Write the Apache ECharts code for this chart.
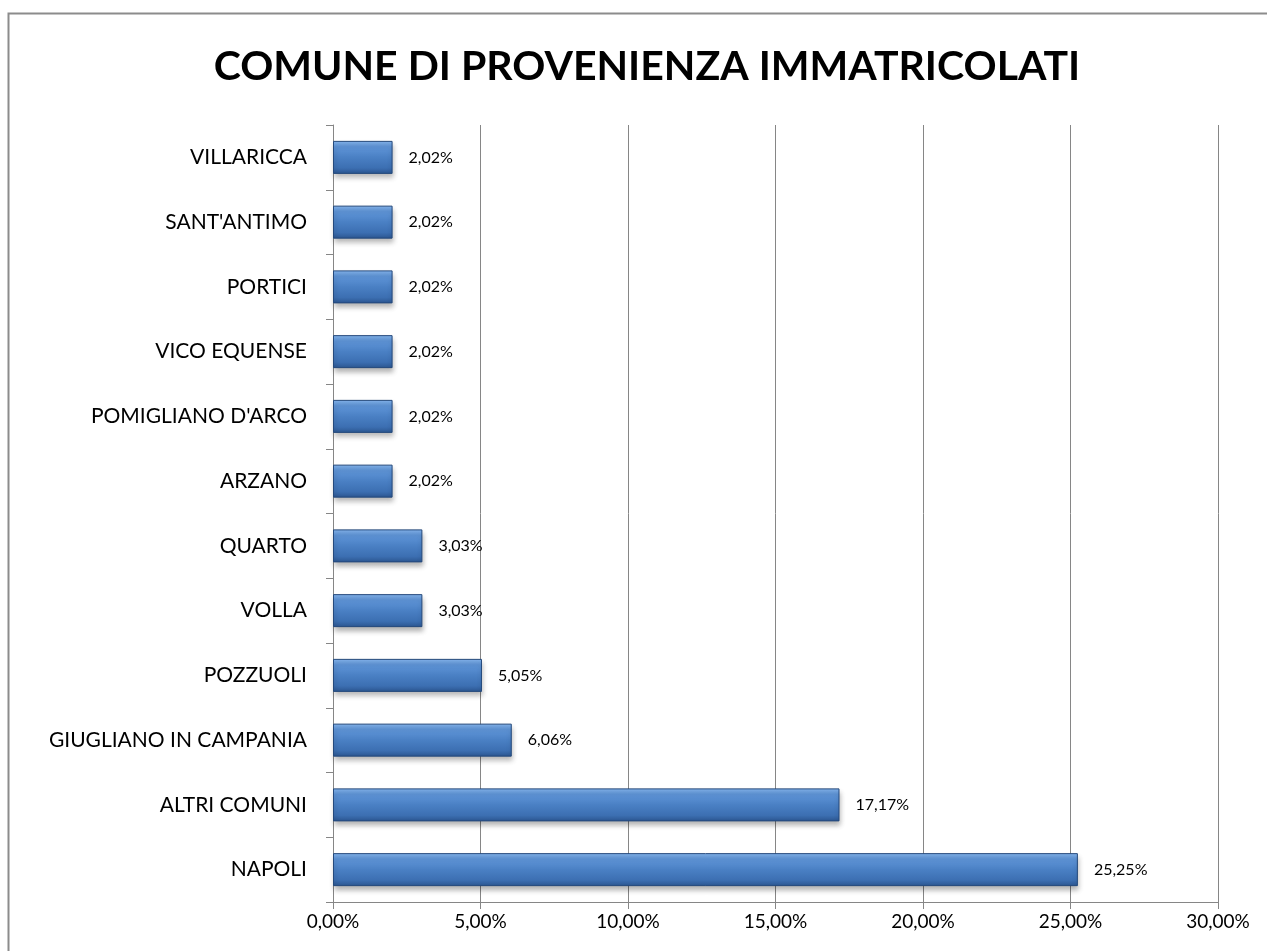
<!DOCTYPE html>
<html>
<head>
<meta charset="utf-8">
<script src="https://cdn.jsdelivr.net/npm/echarts@6/dist/echarts.min.js"></script>
<style>
html,body{margin:0;padding:0;background:#fff;}
#chart{width:1267px;height:951px;}
</style>
</head>
<body>
<div id="chart"></div>
<script>
var titleText = 'COMUNE DI PROVENIENZA IMMATRICOLATI';
var categories = ['NAPOLI', 'ALTRI COMUNI', 'GIUGLIANO IN CAMPANIA', 'POZZUOLI', 'VOLLA', 'QUARTO', 'ARZANO', "POMIGLIANO D'ARCO", 'VICO EQUENSE', 'PORTICI', "SANT'ANTIMO", 'VILLARICCA'];
var values = [25.25, 17.17, 6.06, 5.05, 3.03, 3.03, 2.02, 2.02, 2.02, 2.02, 2.02, 2.02];
var axisMin = 0, axisMax = 30, axisInterval = 5;

var FONT = 'Lato, "Open Sans", sans-serif';
function pct(v){ return v.toFixed(2).replace('.', ',') + '%'; }

var chart = echarts.init(document.getElementById('chart'), null, {renderer: 'canvas'});
chart.setOption({
  animation: false,
  backgroundColor: '#ffffff',
  graphic: [{
    type: 'rect',
    shape: {x: 8.5, y: 13.5, width: 1300, height: 1000},
    style: {fill: 'none', stroke: '#8c8c8c', lineWidth: 2},
    z: -10
  }],
  title: {
    text: titleText,
    left: 642,
    textAlign: 'center',
    top: 41,
    textStyle: {fontFamily: FONT, fontWeight: 'bold', fontSize: 41, color: '#000'}
  },
  grid: {left: 333, right: 49, top: 125, bottom: 49, containLabel: false},
  xAxis: {
    type: 'value',
    min: axisMin, max: axisMax, interval: axisInterval,
    axisLine: {show: true, lineStyle: {color: '#868686', width: 1}},
    axisTick: {show: true, length: 7, lineStyle: {color: '#868686'}},
    splitLine: {show: true, lineStyle: {color: '#868686', width: 1}},
    axisLabel: {fontFamily: FONT, fontSize: 19, color: '#000', margin: 10, formatter: pct}
  },
  yAxis: {
    type: 'category',
    data: categories,
    axisLine: {show: true, lineStyle: {color: '#868686', width: 1}},
    axisTick: {show: true, length: 7, lineStyle: {color: '#868686'}},
    axisLabel: {fontFamily: FONT, fontSize: 21, color: '#000', margin: 26}
  },
  series: [{
    type: 'bar',
    data: values,
    barWidth: 33,
    itemStyle: {
      color: new echarts.graphic.LinearGradient(0, 0, 0, 1, [
        {offset: 0, color: '#86b6ee'},
        {offset: 0.18, color: '#5f95d8'},
        {offset: 0.5, color: '#4a80c4'},
        {offset: 0.82, color: '#3c6fb2'},
        {offset: 1, color: '#2b558f'}
      ]),
      borderColor: '#24497c',
      borderWidth: 1,
      shadowBlur: 5,
      shadowOffsetY: 4,
      shadowOffsetX: 1,
      shadowColor: 'rgba(0,0,0,0.3)'
    },
    label: {
      show: true,
      position: 'right',
      distance: 16,
      fontFamily: FONT,
      fontSize: 16,
      color: '#000',
      formatter: function(p){ return pct(p.value); }
    }
  }]
});
</script>
</body>
</html>
